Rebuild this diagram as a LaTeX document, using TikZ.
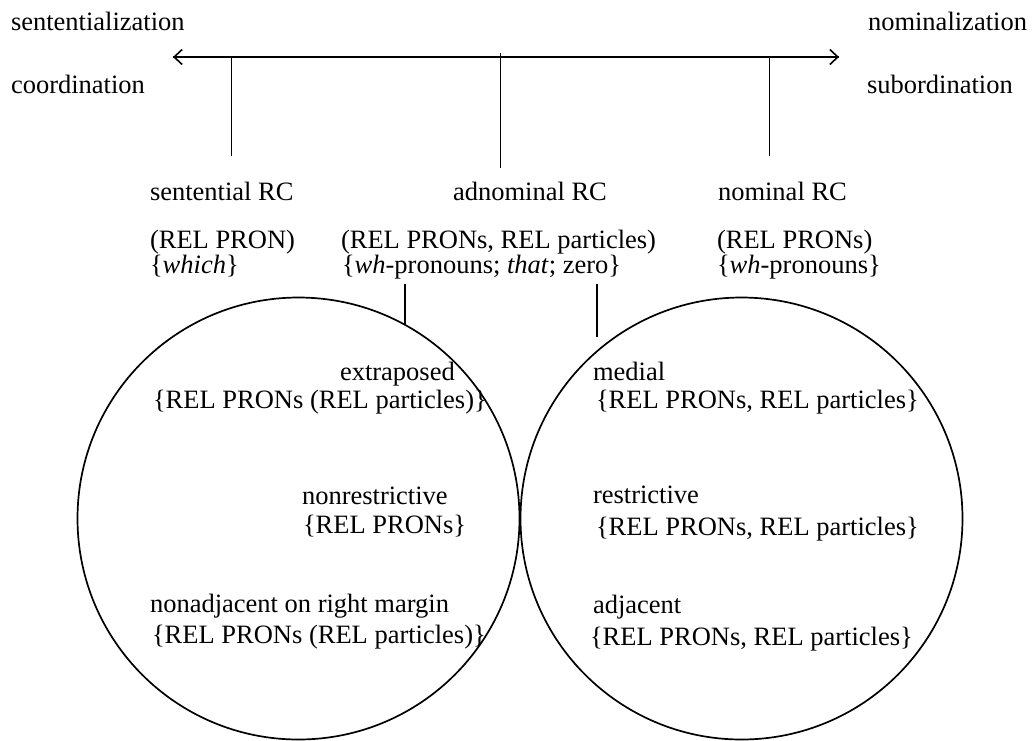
\documentclass[tikz,border=0pt]{standalone}
\usepackage{fontspec}
\setmainfont{Liberation Serif}
\usetikzlibrary{arrows.meta}
\tikzset{
  lbl/.style={anchor=base west, inner sep=0pt, outer sep=0pt, font=\fontsize{26.5}{30}\selectfont},
  ln/.style={line width=1.7pt},
  ring/.style={draw, circle, line width=1.7pt, minimum size=442pt, inner sep=0pt},
  tip/.style={-{Straight Barb[length=8pt,width=15pt,line width=1.6pt]}}
}
\begin{document}
\begin{tikzpicture}[x=1pt,y=-1pt]
\useasboundingbox (0,0) rectangle (1032,740);
% end labels
\node[lbl] (sentz) at (11,30) {sententialization};
\node[lbl] (coord) at (11,93) {coordination};
\node[lbl] (nomz) at (868,30) {nominalization};
\node[lbl] (subord) at (867,93) {subordination};
% axis
\coordinate (axL) at (173,57);
\coordinate (axR) at (839,57);
\draw[ln,tip] (axR) -- (axL);
\draw[ln,tip] (axL) -- (axR);
% ticks
\coordinate (t1a) at (231.5,58);
\coordinate (t1b) at (231.5,156);
\coordinate (t2a) at (500.5,53);
\coordinate (t2b) at (500.5,168);
\coordinate (t3a) at (769.5,58);
\coordinate (t3b) at (769.5,156);
\draw[ln] (t1a) -- (t1b);
\draw[ln] (t2a) -- (t2b);
\draw[ln] (t3a) -- (t3b);
% RC types
\node[lbl] (sRC) at (150,200) {sentential RC};
\node[lbl] (aRC) at (453,200) {adnominal RC};
\node[lbl] (nRC) at (718,200) {nominal RC};
\node[lbl] (sRC1) at (150,248) {(REL PRON)};
\node[lbl] (sRC2) at (150,273) {\{\textit{which}\}};
\node[lbl] (aRC1) at (341,248) {(REL PRONs, REL particles)};
\node[lbl] (aRC2) at (342,273) {\{\textit{wh}-pronouns; \textit{that}; zero\}};
\node[lbl] (nRC1) at (717,248) {(REL PRONs)};
\node[lbl] (nRC2) at (717,273) {\{\textit{wh}-pronouns\}};
% circles
\node[ring] (lc) at (298.5,518.5) {};
\node[ring] (rc) at (741.5,518.5) {};
% connectors
\coordinate (c1a) at (405,284);
\coordinate (c1b) at (405,324);
\coordinate (c2a) at (597,284);
\coordinate (c2b) at (597,337);
\draw[ln] (c1a) -- (c1b);
\draw[ln] (c2a) -- (c2b);
% left circle contents
\node[lbl] (ex1) at (340,380) {extraposed};
\node[lbl] (ex2) at (153,408) {\{REL PRONs (REL particles)\}};
\node[lbl] (nr1) at (302,504) {nonrestrictive};
\node[lbl] (nr2) at (303,533) {\{REL PRONs\}};
\node[lbl] (na1) at (150,612) {nonadjacent on right margin};
\node[lbl] (na2) at (152,643) {\{REL PRONs (REL particles)\}};
% right circle contents
\node[lbl] (me1) at (593,380) {medial};
\node[lbl] (me2) at (596,408) {\{REL PRONs, REL particles\}};
\node[lbl] (re1) at (593,503) {restrictive};
\node[lbl] (re2) at (596,535) {\{REL PRONs, REL particles\}};
\node[lbl] (ad1) at (593,613) {adjacent};
\node[lbl] (ad2) at (590,645) {\{REL PRONs, REL particles\}};
\end{tikzpicture}
\end{document}
